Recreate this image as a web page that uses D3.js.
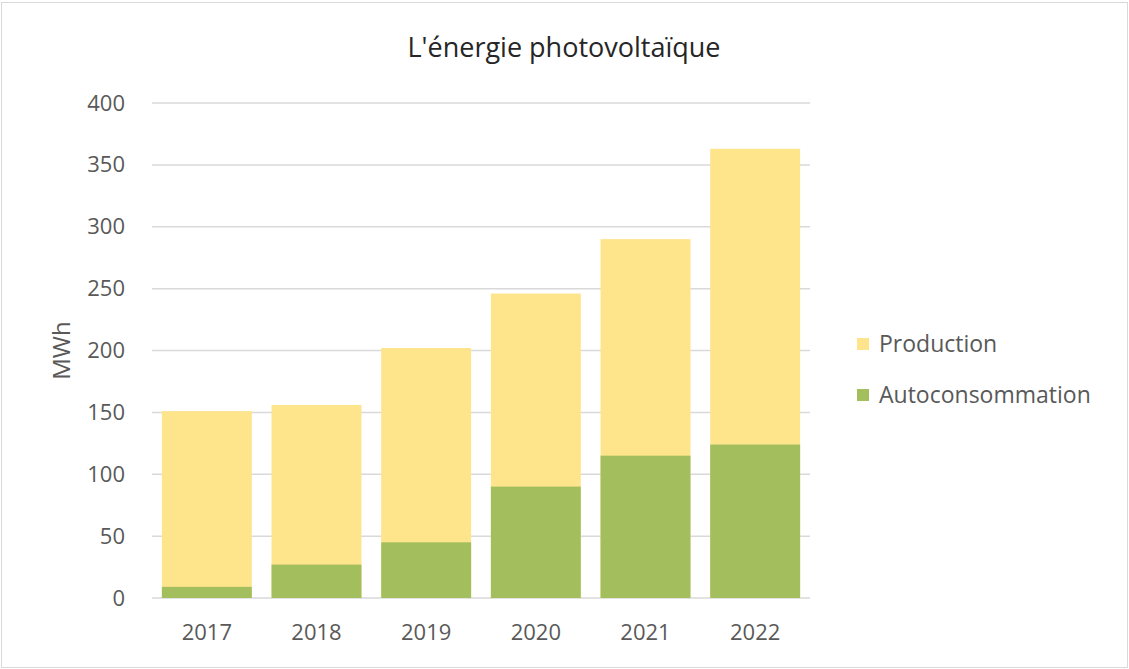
<!DOCTYPE html>
<html>
<head>
<meta charset="utf-8">
<script src="https://cdn.jsdelivr.net/npm/d3@7"></script>
<style>
  body { margin: 0; background: #fff; }
  text { font-family: "Open Sans", sans-serif; }
</style>
</head>
<body>
<script>
// chart data
var years = ["2017", "2018", "2019", "2020", "2021", "2022"];
var production = [151, 156, 202, 246, 290, 363];
var autoconsommation = [9, 27, 45, 90, 115, 124];
var yTicks = [0, 50, 100, 150, 200, 250, 300, 350, 400];
var seriesNames = ["Production", "Autoconsommation"];
var seriesColors = ["#fee48b", "#a3be5d"];

var width = 1129, height = 669;
var margin = {top: 103, right: 319, bottom: 71, left: 152};
var plotW = width - margin.left - margin.right,
    plotH = height - margin.top - margin.bottom;

var svg = d3.select("body").append("svg")
    .attr("width", width)
    .attr("height", height);

// outer chart border
svg.append("rect")
    .attr("x", 1.5).attr("y", 2.5)
    .attr("width", width - 3).attr("height", height - 4)
    .attr("fill", "#fff")
    .attr("stroke", "#d9d9d9");

var g = svg.append("g")
    .attr("transform", "translate(" + margin.left + "," + margin.top + ")");

var x = d3.scaleBand().domain(years).range([0, plotW]).paddingInner(0.18).paddingOuter(0.09);
var y = d3.scaleLinear().domain([0, 400]).range([plotH, 0]);

// gridlines
g.append("g")
    .selectAll("line")
    .data(yTicks)
  .enter().append("line")
    .attr("x1", 0).attr("x2", plotW)
    .attr("y1", function(d) { return y(d); })
    .attr("y2", function(d) { return y(d); })
    .attr("stroke", "#d9d9d9")
    .attr("stroke-width", 1.5);

// production bars (behind)
g.append("g")
    .selectAll("rect")
    .data(production)
  .enter().append("rect")
    .attr("x", function(d, i) { return x(years[i]); })
    .attr("y", function(d) { return y(d); })
    .attr("width", x.bandwidth())
    .attr("height", function(d) { return plotH - y(d); })
    .attr("fill", seriesColors[0]);

// autoconsommation bars (front)
g.append("g")
    .selectAll("rect")
    .data(autoconsommation)
  .enter().append("rect")
    .attr("x", function(d, i) { return x(years[i]); })
    .attr("y", function(d) { return y(d); })
    .attr("width", x.bandwidth())
    .attr("height", function(d) { return plotH - y(d); })
    .attr("fill", seriesColors[1]);

// y axis
var yAxis = g.append("g")
    .call(d3.axisLeft(y).tickValues(yTicks).tickSize(0).tickPadding(27));
yAxis.select(".domain").remove();
yAxis.selectAll("text")
    .attr("fill", "#595959")
    .style("font-size", "22px");

// x axis
var xAxis = g.append("g")
    .attr("transform", "translate(0," + plotH + ")")
    .call(d3.axisBottom(x).tickSize(0).tickPadding(26));
xAxis.select(".domain").remove();
xAxis.selectAll("text")
    .attr("fill", "#595959")
    .style("font-size", "22px");

// y axis title
svg.append("text")
    .attr("transform", "translate(70," + (margin.top + plotH / 2) + ") rotate(-90)")
    .attr("text-anchor", "middle")
    .attr("fill", "#595959")
    .style("font-size", "24px")
    .text("MWh");

// title
svg.append("text")
    .attr("x", 564)
    .attr("y", 57)
    .attr("text-anchor", "middle")
    .attr("fill", "#262626")
    .style("font-size", "27px")
    .text("L'énergie photovoltaïque");

// legend
var legend = svg.append("g")
    .selectAll("g")
    .data(seriesNames)
  .enter().append("g")
    .attr("transform", function(d, i) { return "translate(857," + (338 + i * 51) + ")"; });

legend.append("rect")
    .attr("width", 12).attr("height", 12)
    .attr("fill", function(d, i) { return seriesColors[i]; });

legend.append("text")
    .attr("x", 22).attr("y", 14)
    .attr("fill", "#595959")
    .style("font-size", "23px")
    .text(function(d) { return d; });
</script>
</body>
</html>
